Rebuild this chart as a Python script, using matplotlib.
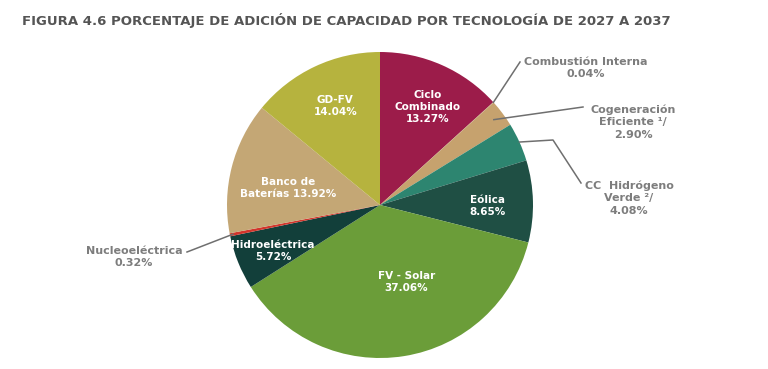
import numpy as np
import matplotlib.pyplot as plt

# porcentajes (en sentido horario desde las 12)
TECNOLOGIAS = ["Ciclo\nCombinado", "Combustión Interna", "Cogeneración\nEficiente ¹/",
               "CC  Hidrógeno\nVerde ²/", "Eólica", "FV - Solar", "Hidroeléctrica",
               "Nucleoeléctrica", "Banco de\nBaterías", "GD-FV"]
PORCENTAJES = [13.27, 0.04, 2.90, 4.08, 8.65, 37.06, 5.72, 0.32, 13.92, 14.04]
COLORES = ["#9c1c4a", "#b79a6a", "#c6a26e", "#2d8570", "#1f4f44", "#6b9d39",
           "#123f3a", "#d2352c", "#c4a775", "#b6b33e"]

TITULO = "FIGURA 4.6 PORCENTAJE DE ADICIÓN DE CAPACIDAD POR TECNOLOGÍA DE 2027 A 2037"

W, H = 768, 369
CX, CY, R = 380, H - 205, 153

fig = plt.figure(figsize=(W / 100, H / 100), dpi=100)
ax = fig.add_axes([0, 0, 1, 1])

wedges, _ = ax.pie(PORCENTAJES, colors=COLORES, startangle=90, counterclock=False,
                   center=(CX, CY), radius=R, frame=True,
                   wedgeprops=dict(linewidth=0))
ax.set_xlim(0, W)
ax.set_ylim(0, H)
ax.set_aspect("equal")
ax.axis("off")


def punto(w, frac, dang=0.0):
    a = np.deg2rad((w.theta1 + w.theta2) / 2 + dang)
    return CX + frac * R * np.cos(a), CY + frac * R * np.sin(a)


def pct(i):
    return f"{PORCENTAJES[i]:.2f}%"


txt_in = dict(color="white", fontsize=7.5, fontweight="bold", ha="center",
              va="center", linespacing=1.25)
txt_out = dict(color="#7d7d7d", fontsize=8, fontweight="bold", ha="center",
               va="center", linespacing=1.3)

# etiquetas interiores: (indice, fraccion de radio, giro en grados, texto)
interiores = [
    (0, 0.71, -2, TECNOLOGIAS[0] + "\n" + pct(0)),
    (4, 0.70, -2, TECNOLOGIAS[4] + "\n" + pct(4)),
    (5, 0.53, 10, TECNOLOGIAS[5] + "\n" + pct(5)),
    (6, 0.76, 1, TECNOLOGIAS[6] + "\n" + pct(6)),
    (8, 0.61, 4, TECNOLOGIAS[8] + " " + pct(8)),
    (9, 0.71, -1, TECNOLOGIAS[9] + "\n" + pct(9)),
]
for i, f, da, t in interiores:
    x, y = punto(wedges[i], f, da)
    ax.text(x, y, t, **txt_in)

lc = dict(color="#6f6f6f", lw=1.1)

# Combustión interna
x0, y0 = punto(wedges[1], 1.0)
ax.plot([x0, 520], [y0, H - 62], **lc)
ax.text(586, H - 68, TECNOLOGIAS[1] + "\n" + pct(1), **txt_out)

# Cogeneración
x0, y0 = punto(wedges[2], 0.93)
ax.plot([x0, 583], [y0, H - 107], **lc)
ax.text(633, H - 122, TECNOLOGIAS[2] + "\n" + pct(2), **txt_out)

# CC Hidrógeno
x0, y0 = punto(wedges[3], 1.0)
ax.plot([x0, 553, 581], [y0, H - 140, H - 183], **lc)
ax.text(629, H - 198, TECNOLOGIAS[3] + "\n" + pct(3), **txt_out)

# Nucleoeléctrica
x0, y0 = punto(wedges[7], 0.98)
ax.plot([187, x0], [H - 252, y0], **lc)
ax.text(134, H - 257, TECNOLOGIAS[7] + "\n" + pct(7), **txt_out)

ax.text(22, H - 20, TITULO, color="#555555", fontsize=9.55, fontweight="bold",
        ha="left", va="center")

fig.savefig("out.png", dpi=100)
